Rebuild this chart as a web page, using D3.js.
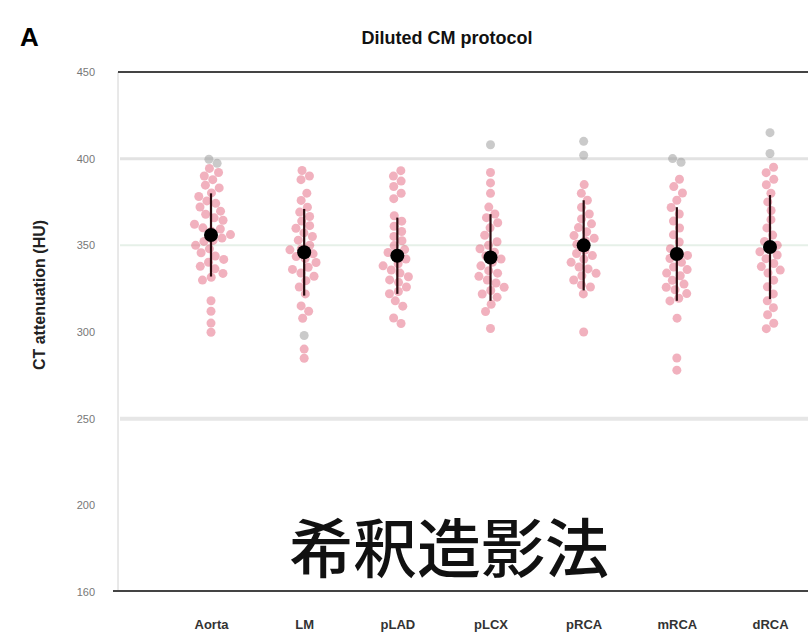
<!DOCTYPE html>
<html lang="ja">
<head>
<meta charset="utf-8">
<title>Diluted CM protocol</title>
<script src="https://d3js.org/d3.v7.min.js"></script>
<style>
  body { margin: 0; background: #fff; }
  svg { display: block; font-family: Arial, "Liberation Sans", sans-serif; }
</style>
</head>
<body>
<script>
// categories and values
var categories = ["Aorta", "LM", "pLAD", "pLCX", "pRCA", "mRCA", "dRCA"];
var means = [356, 346, 344, 343, 350, 345, 349];
var sds = [24, 25, 22, 25, 26, 27, 30];

var aorta = [395, 392, 390, 388, 385, 383, 380, 378, 376, 374, 372, 370, 368, 366, 364, 362, 360, 359, 358, 356, 355, 353, 352, 350, 348, 346, 344, 342, 340, 338, 336, 334, 332, 330, 318, 312, 305, 300];
var lm = [393, 390, 388, 380, 376, 372, 369, 366, 364, 362, 360, 357, 355, 353, 350, 348, 347, 345, 344, 342, 340, 338, 336, 334, 332, 330, 326, 322, 315, 312, 308, 290, 285];
var plad = [393, 390, 387, 384, 380, 377, 367, 364, 361, 358, 355, 352, 350, 348, 346, 344, 342, 340, 338, 336, 334, 332, 330, 328, 326, 324, 322, 318, 315, 308, 305];
var plcx = [392, 386, 380, 372, 368, 366, 363, 360, 356, 352, 350, 348, 346, 344, 342, 340, 338, 336, 334, 332, 330, 328, 326, 324, 322, 320, 316, 312, 302];
var prca = [385, 380, 376, 372, 368, 365, 362, 360, 358, 356, 354, 352, 350, 348, 346, 344, 342, 340, 338, 336, 334, 332, 330, 328, 326, 322, 300];
var mrca = [388, 384, 380, 376, 372, 368, 364, 360, 356, 352, 348, 346, 344, 342, 340, 338, 336, 334, 332, 330, 328, 326, 324, 322, 320, 318, 308, 285, 278];
var drca = [395, 392, 388, 385, 380, 375, 370, 365, 360, 356, 352, 350, 348, 346, 344, 342, 340, 338, 336, 334, 330, 326, 322, 318, 314, 310, 305, 302];
var points = [aorta, lm, plad, plcx, prca, mrca, drca];

// greyish dots sitting on the 400 line
var greyPts = [[399, 397], [298], [], [408], [410, 402], [400, 398], [415, 403]];

var yTicks = [150, 200, 250, 300, 350, 400, 450];
var yTickLabels = ["160", "200", "250", "300", "350", "400", "450"];

var width = 808, height = 640;

var svg = d3.select("body").append("svg")
    .attr("width", width)
    .attr("height", height);

var x = d3.scalePoint().domain(categories).range([211, 770]);
var y = d3.scaleLinear().domain([150, 450]).range([592, 72]);

// light grid bands
svg.append("line")
    .attr("x1", 120).attr("x2", width)
    .attr("y1", y(400)).attr("y2", y(400))
    .attr("stroke", "#e2e2e2").attr("stroke-width", 3);
svg.append("line")
    .attr("x1", 120).attr("x2", width)
    .attr("y1", y(350)).attr("y2", y(350))
    .attr("stroke", "#e6f0e8").attr("stroke-width", 2);
svg.append("line")
    .attr("x1", 120).attr("x2", width)
    .attr("y1", y(250)).attr("y2", y(250))
    .attr("stroke", "#e6e6e6").attr("stroke-width", 4);

// left axis
var yAxis = d3.axisLeft(y)
    .tickValues(yTicks)
    .tickSize(0)
    .tickPadding(0)
    .tickFormat((d, i) => yTickLabels[i]);
var gy = svg.append("g")
    .attr("transform", "translate(95,0)")
    .call(yAxis);
gy.select(".domain").remove();
gy.selectAll("text")
    .attr("fill", "#777")
    .style("font-size", "11px");

svg.append("line")
    .attr("x1", 118).attr("x2", 118)
    .attr("y1", 72).attr("y2", 592)
    .attr("stroke", "#d2d2d2").attr("stroke-width", 1);

// top and bottom frame lines
svg.append("line")
    .attr("x1", 118).attr("x2", width)
    .attr("y1", y(450)).attr("y2", y(450))
    .attr("stroke", "#444").attr("stroke-width", 2);
svg.append("line")
    .attr("x1", 113).attr("x2", width)
    .attr("y1", 591).attr("y2", 591)
    .attr("stroke", "#444").attr("stroke-width", 2);

// x labels
var xAxis = d3.axisBottom(x).tickSize(0).tickPadding(0);
var gx = svg.append("g")
    .attr("transform", "translate(0,620)")
    .call(xAxis);
gx.select(".domain").remove();
gx.selectAll("text")
    .attr("fill", "#333")
    .style("font-size", "13px")
    .style("font-weight", "bold");

// jittered points, spread with a collide force
var nodes = [];
points.forEach(function (vals, i) {
    vals.forEach(function (v) {
        nodes.push({cat: categories[i], v: v, grey: false, x: x(categories[i]), y: y(v)});
    });
    greyPts[i].forEach(function (v) {
        nodes.push({cat: categories[i], v: v, grey: true, x: x(categories[i]), y: y(v)});
    });
});

var sim = d3.forceSimulation(nodes)
    .force("x", d3.forceX(d => x(d.cat)).strength(0.04))
    .force("y", d3.forceY(d => y(d.v)).strength(0.9))
    .force("collide", d3.forceCollide(4.6))
    .stop();
for (var k = 0; k < 300; k++) sim.tick();

svg.append("g")
    .selectAll("circle")
    .data(nodes)
    .join("circle")
    .attr("cx", d => d.x)
    .attr("cy", d => d.y)
    .attr("r", 4.5)
    .attr("fill", d => d.grey ? "rgba(150,150,150,0.5)" : "rgba(222,70,100,0.42)");

// mean +/- SD
var stats = categories.map((c, i) => ({cat: c, mean: means[i], sd: sds[i]}));

svg.append("g")
    .selectAll("line")
    .data(stats)
    .join("line")
    .attr("x1", d => x(d.cat))
    .attr("x2", d => x(d.cat))
    .attr("y1", d => y(d.mean + d.sd))
    .attr("y2", d => y(d.mean - d.sd))
    .attr("stroke", "#2a0c10")
    .attr("stroke-width", 2.2);

svg.append("g")
    .selectAll("circle")
    .data(stats)
    .join("circle")
    .attr("cx", d => x(d.cat))
    .attr("cy", d => y(d.mean))
    .attr("r", 7)
    .attr("fill", "#000");

// titles
svg.append("text")
    .attr("x", 20).attr("y", 46)
    .style("font-size", "26px")
    .style("font-weight", "bold")
    .text("A");

svg.append("text")
    .attr("x", 447).attr("y", 44)
    .attr("text-anchor", "middle")
    .style("font-size", "18px")
    .style("font-weight", "bold")
    .attr("fill", "#111")
    .text("Diluted CM protocol");

svg.append("text")
    .attr("transform", "translate(45,295) rotate(-90)")
    .attr("text-anchor", "middle")
    .style("font-size", "16px")
    .style("font-weight", "bold")
    .attr("fill", "#222")
    .text("CT attenuation (HU)");

svg.append("text")
    .attr("x", 449).attr("y", 572)
    .attr("text-anchor", "middle")
    .style("font-family", "'Noto Sans CJK JP', 'Noto Sans CJK SC', sans-serif")
    .style("font-size", "64px")
    .style("font-weight", "500")
    .attr("fill", "#111")
    .text("希釈造影法");
</script>
</body>
</html>
